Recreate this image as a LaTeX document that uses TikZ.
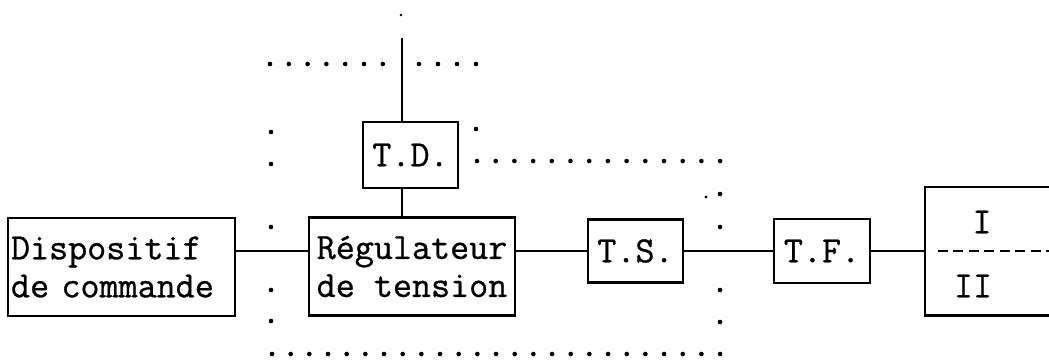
\documentclass[tikz,border=0pt]{standalone}
\usepackage{fontspec}
\newfontfamily\diamono[FakeBold=0.8]{Latin Modern Mono}
\newcommand\diafont{\fontsize{37}{38}\selectfont\diamono}
\begin{document}
\begin{tikzpicture}[x=1pt,y=-1pt,
  box/.style={draw, line width=2.8pt, inner sep=2pt, font=\diafont},
  frame/.style={line width=2.6pt},
  wire/.style={line width=2.2pt},
  divider/.style={line width=2.8pt, dash pattern=on 10pt off 5.5pt},
  lbl/.style={font=\diafont, inner sep=0pt},
  dotpt/.style={fill=black}]
\useasboundingbox (0,0) rectangle (1049,360);

% boxes
\node[box, minimum width=227pt, minimum height=98pt, text width=221pt, align=left] (disp) at (121.5,267) {Dispositif\\de commande};
\node[box, minimum width=206pt, minimum height=98pt, align=center] (reg) at (412,266.5) {Régulateur\\de tension};
\node[box, minimum width=95pt, minimum height=66pt] (td) at (410.5,155) {T.D.};
\node[box, minimum width=95pt, minimum height=63pt] (ts) at (635.5,251) {T.S.};
\node[box, minimum width=96pt, minimum height=64pt] (tf) at (822,251) {T.F.};
\node[minimum width=130pt, minimum height=128pt, inner sep=0pt] (out) at (990,251) {};
\draw[frame] (out.north east) -- (out.north west) -- (out.south west) -- (out.south east);
\node[lbl] (one) at (982,222) {I};
\node[lbl] (two) at (973,286) {II};
\draw[divider] ([xshift=13pt]out.west) -- (out.east);

% connectors
\draw[wire] (disp.east |- ts.west) -- (reg.west |- ts.west);
\draw[wire] (reg.east |- ts.west) -- (ts.west);
\draw[wire] (ts.east) -- (tf.west);
\draw[wire] (tf.east) -- (out.west);
\coordinate (top) at (402,38);
\draw[wire] (top) -- (top |- td.north);
\draw[wire] (top |- td.south) -- (top |- reg.north);

% dotted outlines
\fill (401,15) circle (1.3pt);
\foreach \i in {0,...,6} \fill[dotpt] (270+18.8*\i,64) circle (2.3pt);
\foreach \xx in {419,438,457,476} \fill[dotpt] (\xx,64) circle (2.3pt);
\foreach \yy in {132,164,227,290,321} \fill[dotpt] (271,\yy) circle (2.3pt);
\fill[dotpt] (476,129) circle (2.3pt);
\foreach \i in {0,...,13} \fill[dotpt] (477+18.7*\i,161) circle (2.3pt);
\foreach \yy in {194,227,290,322} \fill[dotpt] (720,\yy) circle (2.3pt);
\fill[dotpt] (706,197) circle (1.6pt);
\foreach \i in {0,...,24} \fill[dotpt] (272+18.67*\i,354) circle (2.3pt);
\end{tikzpicture}
\end{document}
